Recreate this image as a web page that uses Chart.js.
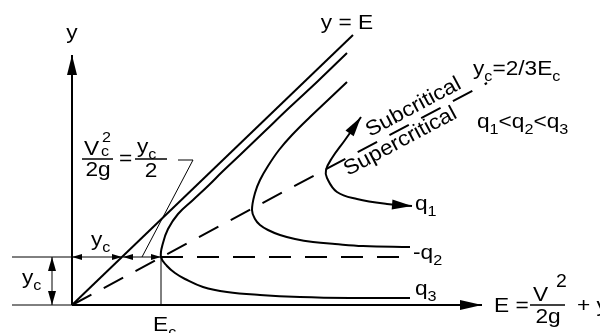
<!DOCTYPE html>
<html>
<head>
<meta charset="utf-8">
<script src="https://cdn.jsdelivr.net/npm/chart.js@4.4.1/dist/chart.umd.min.js"></script>
<style>
  html, body { margin: 0; padding: 0; background: #fff; }
  #wrap { width: 600px; height: 333px; }
</style>
</head>
<body>
<div id="wrap"><canvas id="chart" width="600" height="333"></canvas></div>
<script>
// specific energy diagram: E on the x axis, depth y on the y axis (arbitrary units)
const Ec = 0.89;
const yc = 0.48;
const eMax = 4.10;
const yMax = 2.50;

// [E, y] pairs
const lineYE = [[0, 0], [2.81, 2.70]];
const lineCritical = [[0, 0], [4.15, 2.22]];
const lineYc = [[Ec, yc], [3.31, yc]];
const curveQ1 = [[2.89, 1.88], [2.73, 1.65], [2.60, 1.47], [2.54, 1.35], [2.55, 1.27], [2.65, 1.13], [2.85, 1.06], [3.15, 1.01], [3.40, 0.99]];
const curveQ2 = [[2.75, 2.23], [2.56, 2.05], [2.38, 1.88], [2.20, 1.70], [2.07, 1.55], [1.96, 1.39], [1.88, 1.25], [1.83, 1.12], [1.80, 0.95],
    [1.83, 0.86], [1.88, 0.80], [1.96, 0.75], [2.08, 0.70], [2.23, 0.66], [2.41, 0.63], [2.63, 0.61], [2.91, 0.59], [3.38, 0.58]];
const curveQ3 = [[2.75, 2.52], [2.46, 2.24], [2.18, 1.98], [1.93, 1.74], [1.68, 1.50], [1.50, 1.33], [1.37, 1.20], [1.21, 1.05], [1.06, 0.91], [0.96, 0.76], [0.91, 0.62], [0.89, 0.48],
    [0.95, 0.39], [1.03, 0.32], [1.13, 0.26], [1.31, 0.18], [1.55, 0.13], [1.88, 0.10], [2.28, 0.08], [2.78, 0.07], [3.38, 0.07]];

const FONT = '"Liberation Sans", Arial, Helvetica, sans-serif';

function pts(arr) {
    return arr.map(p => ({ x: p[0], y: p[1] }));
}

function line(arr, extra) {
    return Object.assign({
        data: pts(arr),
        showLine: true,
        borderColor: '#000',
        borderWidth: 2,
        pointRadius: 0,
        tension: 0,
        clip: false
    }, extra || {});
}

// text with sub/superscripts, slightly stretched like the original lettering
function rich(ctx, parts, x, y, align, rotDeg, size) {
    size = size || 21;
    ctx.save();
    ctx.translate(x, y);
    if (rotDeg) ctx.rotate(rotDeg * Math.PI / 180);
    ctx.scale(1.08, 1);
    ctx.textBaseline = 'alphabetic';
    ctx.textAlign = 'left';
    const fontFor = p => (p[1] ? Math.round(size * 0.72) : size) + 'px ' + FONT;
    let w = 0;
    parts.forEach(p => {
        ctx.font = fontFor(p);
        if (!p[2]) w += ctx.measureText(p[0]).width;
    });
    let cx = align === 'center' ? -w / 2 : 0;
    parts.forEach(p => {
        ctx.font = fontFor(p);
        const dy = p[1] === 'sub' ? size * 0.3 : p[1] === 'sup' ? -size * 0.42 : 0;
        ctx.fillText(p[0], cx, dy);
        if (!p[2]) cx += ctx.measureText(p[0]).width;
    });
    ctx.restore();
}

function bar(ctx, x1, x2, y) {
    ctx.beginPath();
    ctx.moveTo(x1, y);
    ctx.lineTo(x2, y);
    ctx.lineWidth = 1.5;
    ctx.stroke();
}

const arrowPlugin = {
    id: 'arrows',
    afterDatasetsDraw(chart) {
        const ctx = chart.ctx;
        chart.data.datasets.forEach((ds, i) => {
            if (!ds.arrow) return;
            const p = chart.getDatasetMeta(i).data;
            const n = p.length;
            const heads = [];
            if (ds.arrow !== 'start') heads.push([p[n - 1], p[n - 2]]);
            if (ds.arrow !== 'end') heads.push([p[0], p[1]]);
            heads.forEach(([tip, from]) => {
                const a = Math.atan2(tip.y - from.y, tip.x - from.x);
                ctx.save();
                ctx.translate(tip.x, tip.y);
                ctx.rotate(a);
                ctx.beginPath();
                ctx.moveTo(0, 0);
                ctx.lineTo(-ds.arrowLen, -ds.arrowW / 2);
                ctx.lineTo(-ds.arrowLen, ds.arrowW / 2);
                ctx.closePath();
                ctx.fillStyle = '#000';
                ctx.fill();
                ctx.restore();
            });
        });
    }
};

const labelPlugin = {
    id: 'labels',
    afterDraw(chart) {
        const ctx = chart.ctx;
        ctx.save();
        ctx.fillStyle = '#000';
        ctx.strokeStyle = '#000';

        rich(ctx, [['y']], 72, 39, 'center');
        rich(ctx, [['y = E']], 347, 29, 'center');
        rich(ctx, [['y'], ['c', 'sub'], ['=2/3E'], ['c', 'sub']], 473, 75);
        rich(ctx, [['q'], ['1', 'sub'], ['<'], ['q'], ['2', 'sub'], ['<'], ['q'], ['3', 'sub']], 477, 128);
        rich(ctx, [['Subcritical']], 370, 137, 'left', -28);
        rich(ctx, [['Supercritical']], 348, 176, 'left', -28);

        rich(ctx, [['q'], ['1', 'sub']], 415, 210);
        rich(ctx, [['-q'], ['2', 'sub']], 413, 259);
        rich(ctx, [['q'], ['3', 'sub']], 415, 295);

        // E = V^2/2g + y
        rich(ctx, [['E =']], 494, 312);
        rich(ctx, [['V']], 533, 301);
        rich(ctx, [['2']], 556, 287, 'left', 0, 18);
        bar(ctx, 530, 565, 305);
        rich(ctx, [['2g']], 548, 323, 'center');
        rich(ctx, [['+ y']], 577, 312);

        // Vc^2/2g = yc/2
        rich(ctx, [['V']], 84, 155);
        rich(ctx, [['2']], 102, 142, 'left', 0, 15);
        rich(ctx, [['c']], 101, 156, 'left', 0, 15);
        bar(ctx, 82, 113, 159);
        rich(ctx, [['2g']], 98, 176, 'center');
        rich(ctx, [['=']], 119, 165);
        rich(ctx, [['y'], ['c', 'sub']], 137, 153);
        bar(ctx, 135, 167, 159);
        rich(ctx, [['2']], 151, 177, 'center');

        rich(ctx, [['y'], ['c', 'sub']], 22, 284);
        rich(ctx, [['y'], ['c', 'sub']], 91, 246);
        rich(ctx, [['E'], ['c', 'sub']], 153, 331);
        ctx.restore();
    }
};

new Chart(document.getElementById('chart').getContext('2d'), {
    type: 'scatter',
    data: {
        datasets: [
            line([[0, 0], [eMax, 0]], { arrow: 'end', arrowLen: 22, arrowW: 10 }),
            line([[0, 0], [0, yMax]], { arrow: 'end', arrowLen: 20, arrowW: 10 }),
            line(lineYE),
            line(lineCritical, { borderDash: [22, 14] }),
            line(lineYc, { borderDash: [22, 14] }),
            line([[Ec, 0], [Ec, yc]], { borderWidth: 1 }),
            line([[0, yc], [0.50, yc]], { borderWidth: 1, arrow: 'both', arrowLen: 10, arrowW: 6 }),
            line([[0.51, yc], [Ec, yc]], { borderWidth: 1, arrow: 'both', arrowLen: 10, arrowW: 6 }),
            line([[-0.60, yc], [0, yc]], { borderWidth: 1 }),
            line([[-0.60, 0], [0, 0]], { borderWidth: 1 }),
            line([[-0.20, 0], [-0.20, yc]], { borderWidth: 1, arrow: 'both', arrowLen: 14, arrowW: 8 }),
            line([[0.70, yc], [1.21, 1.45], [1.06, 1.45]], { borderWidth: 1 }),
            line(curveQ1, { tension: 0.4, arrow: 'both', arrowLen: 20, arrowW: 10 }),
            line(curveQ2, { tension: 0.4 }),
            line(curveQ3, { tension: 0.4 })
        ]
    },
    options: {
        responsive: false,
        animation: false,
        layout: { padding: { left: 72, right: 118, top: 55, bottom: 28 } },
        scales: {
            x: { type: 'linear', min: 0, max: eMax, display: false },
            y: { type: 'linear', min: 0, max: yMax, display: false }
        },
        plugins: {
            legend: { display: false },
            tooltip: { enabled: false }
        }
    },
    plugins: [arrowPlugin, labelPlugin]
});
</script>
</body>
</html>
